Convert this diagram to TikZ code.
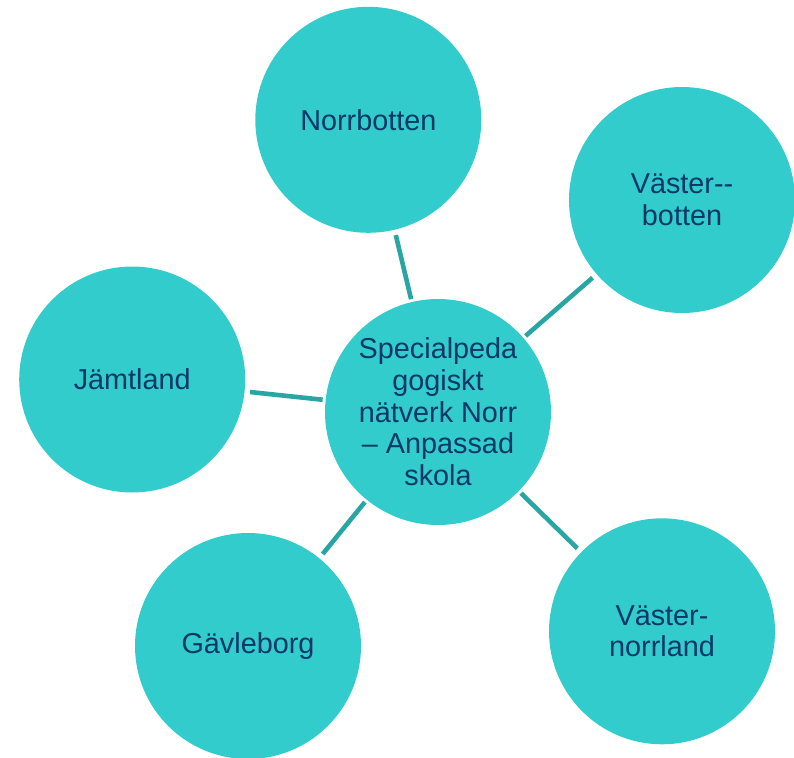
\documentclass[tikz,border=0pt]{standalone}
\usepackage{fontspec}
\setmainfont{Liberation Sans}
\definecolor{circfill}{RGB}{51,204,204}
\definecolor{connline}{RGB}{41,166,163}
\definecolor{navytext}{RGB}{8,56,104}
\begin{document}
\begin{tikzpicture}[x=1pt,y=-1pt,
  bubble/.style={circle,fill=circfill,draw=none,minimum size=226pt,inner sep=0pt,
    align=center,text=navytext,font=\fontsize{28.8}{31.7}\selectfont,outer sep=5.5pt},
  hub/.style={bubble,outer sep=3pt},
  conn/.style={draw=connline,line width=4.6pt}]
\useasboundingbox (0,0) rectangle (794,757);
\node[hub] (c) at (438,412) {Specialpeda\\gogiskt\\nätverk Norr\\– Anpassad\\skola};
\node[bubble] (nb) at (368.3,119.8) {Norrbotten};
\node[bubble] (vb) at (682,200) {Väster-{}-\\botten};
\node[bubble] (jl) at (132.2,379.5) {Jämtland};
\node[bubble] (gb) at (248,646) {Gävleborg};
\node[bubble] (vn) at (662,631.3) {Väster-\\norrland};
\draw[conn] (nb) -- (c);
\draw[conn] (vb) -- (c);
\draw[conn] (jl) -- (c);
\draw[conn] (gb) -- (c);
\draw[conn] (vn) -- (c);
\end{tikzpicture}
\end{document}
